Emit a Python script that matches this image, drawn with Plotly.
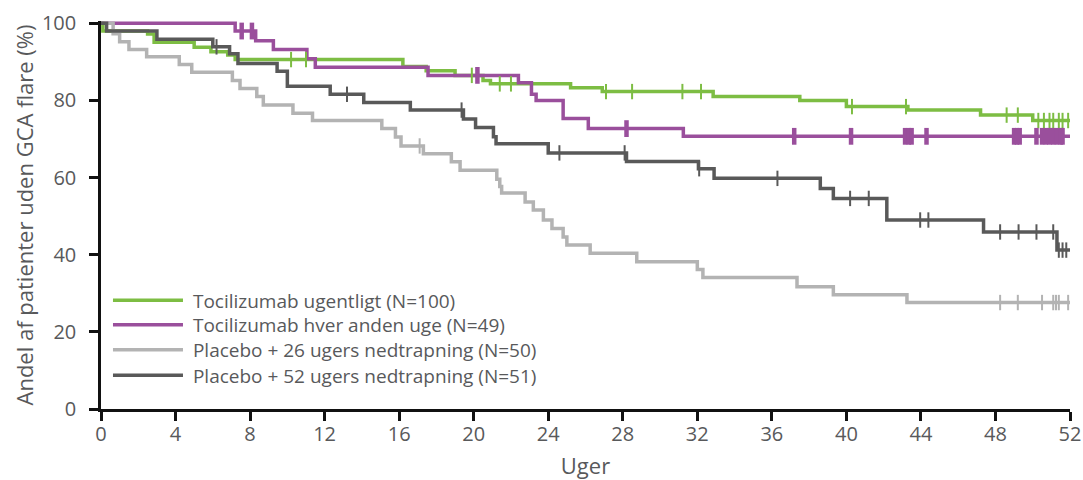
import plotly.graph_objects as go

x_ticks = list(range(0, 53, 4))
y_ticks = [0, 20, 40, 60, 80, 100]

series_names = [
    "Tocilizumab ugentligt (N=100)",
    "Tocilizumab hver anden uge (N=49)",
    "Placebo + 26 ugers nedtrapning (N=50)",
    "Placebo + 52 ugers nedtrapning (N=51)",
]
series_colors = ["#7dbd43", "#9a4f9c", "#b3b3b3", "#595959"]

# Tocilizumab weekly
tcz_w_t = [0, 0.1, 2.5, 2.85, 5.0, 5.9, 6.8, 7.2, 16.2, 17.45, 19.0, 20.5, 20.9, 25.2, 26.9,
           32.85, 37.5, 40.0, 43.3, 47.2, 50.0, 52.5]
tcz_w_s = [100, 98, 97.2, 95.1, 93.8, 92.6, 91.8, 90.6, 88.8, 87.7, 86.5, 85.2, 84.3, 83.3, 82.3,
           81.0, 80.0, 78.4, 77.5, 76.2, 74.8, 74.8]
tcz_w_c = [10.2, 11.0, 19.9, 21.4, 22.0, 27.1, 28.5, 31.2, 32.2, 40.3, 43.2, 48.6, 49.2, 50.3,
           50.6, 50.9, 51.1, 51.4, 51.6, 51.9, 52.2, 52.5]

# Tocilizumab every other week
tcz_e_t = [0, 7.2, 8.3, 9.25, 11.05, 11.5, 17.55, 22.4, 23.1, 23.35, 24.8, 26.15, 31.25, 52.4]
tcz_e_s = [100, 98.0, 95.5, 93.2, 90.8, 88.6, 86.5, 84.6, 81.6, 80.0, 75.3, 72.7, 70.7, 70.7]
tcz_e_c = [7.55, 8.1, 20.2, 28.2, 37.2, 40.25, 43.15, 43.35, 43.5, 44.3, 49.0, 49.15, 49.3, 50.2,
           50.5, 50.7, 50.9, 51.1, 51.3, 51.5, 51.6, 52.15]

# Placebo + 26 weeks taper
pbo26_t = [0, 0.65, 1.0, 1.5, 2.45, 4.2, 4.87, 7.05, 7.46, 8.36, 8.71, 10.3, 11.35, 15.07, 15.8,
           16.1, 17.3, 18.8, 19.27, 21.24, 21.4, 21.5, 22.76, 23.2, 23.74, 24.2, 24.8, 25.0,
           26.25, 28.75, 32.0, 32.3, 37.35, 39.3, 43.25, 52.3]
pbo26_s = [100, 97.3, 95.2, 93.2, 91.3, 89.3, 87.3, 85.2, 83.1, 81.0, 78.8, 76.7, 74.8, 72.7, 70.5,
           68.2, 66.2, 64.1, 61.9, 59.6, 57.7, 56.0, 53.7, 51.6, 49.0, 46.8, 44.6, 42.5,
           40.4, 38.2, 36.2, 34.1, 31.7, 29.6, 27.6, 27.6]
pbo26_c = [17.1, 48.25, 49.2, 50.5, 51.1, 51.25, 51.4, 51.9, 52.3]

# Placebo + 52 weeks taper
pbo52_t = [0, 0.3, 3.0, 6.0, 6.9, 7.35, 9.45, 10.0, 12.3, 14.1, 16.6, 19.45, 20.1, 21.06, 21.2,
           24.0, 28.2, 32.06, 32.9, 38.6, 39.3, 42.17, 47.36, 51.3, 52.1]
pbo52_s = [100, 98.0, 95.9, 93.9, 92.1, 89.6, 87.6, 83.7, 81.6, 79.5, 77.5, 75.2, 73.0, 70.6, 68.8,
           66.4, 64.2, 62.3, 59.8, 57.2, 54.6, 49.0, 45.9, 41.2, 41.2]
pbo52_c = [6.2, 13.2, 19.35, 24.6, 28.1, 32.1, 36.3, 40.2, 41.2, 43.96, 44.4, 48.25, 49.24,
           50.2, 51.1, 51.4, 51.6, 51.8, 52.1]

all_t = [tcz_w_t, tcz_e_t, pbo26_t, pbo52_t]
all_s = [tcz_w_s, tcz_e_s, pbo26_s, pbo52_s]
all_c = [tcz_w_c, tcz_e_c, pbo26_c, pbo52_c]


def step_value(ts, ss, t):
    v = ss[0]
    for ti, si in zip(ts, ss):
        if ti <= t:
            v = si
        else:
            break
    return v


fig = go.Figure()
font_family = "'Open Sans', Lato, sans-serif"
text_gray = "#58595b"
legend_ids = ["legend", "legend2", "legend3", "legend4"]
legend_rows_px = [300.5, 325, 350, 375.5]  # row centres in pixels (layout only)
plot_top, plot_bottom = 21, 409

for i in range(4):
    fig.add_trace(go.Scatter(
        x=all_t[i], y=all_s[i], mode="lines", line_shape="hv",
        line=dict(color=series_colors[i], width=3.5),
        name="\u00a0" + series_names[i], legend=legend_ids[i], showlegend=True,
    ))
for i in range(4):
    cy = [step_value(all_t[i], all_s[i], c) for c in all_c[i]]
    fig.add_trace(go.Scatter(
        x=all_c[i], y=cy, mode="markers", cliponaxis=False,
        marker=dict(symbol="line-ns", size=11 if i != 1 else 12,
                    line=dict(color=series_colors[i], width=2 if i != 1 else 4.5)),
        showlegend=False, hoverinfo="skip",
    ))

layout_legends = {}
for i, lid in enumerate(legend_ids):
    layout_legends[lid] = dict(
        x=0.0072, xanchor="left",
        y=(plot_bottom - legend_rows_px[i]) / (plot_bottom - plot_top), yanchor="middle",
        bgcolor="rgba(0,0,0,0)", font=dict(size=19, color=text_gray),
        itemwidth=70,
    )

fig.update_layout(
    width=1083, height=480,
    margin=dict(l=101, r=13, t=plot_top, b=480 - plot_bottom),
    plot_bgcolor="white", paper_bgcolor="white",
    font=dict(family=font_family, color=text_gray, size=19),
    xaxis=dict(
        range=[0, 52], tickvals=x_ticks, ticks="outside", ticklen=9, tickwidth=2.5,
        tickcolor="#111", showline=True, linecolor="#111", linewidth=2.5,
        showgrid=False, zeroline=False, ticklabelstandoff=-4, automargin=False,
        tickfont=dict(size=20, color=text_gray),
        title=dict(text="Uger", font=dict(size=22, color=text_gray), standoff=26),
    ),
    yaxis=dict(
        range=[0, 100.6], tickvals=y_ticks, ticks="outside", ticklen=9, tickwidth=2.5,
        tickcolor="#111", showline=True, linecolor="#111", linewidth=2.5,
        showgrid=False, zeroline=False, ticklabelstandoff=9, automargin=False,
        tickfont=dict(size=20, color=text_gray),
        title=dict(text="Andel af patienter uden GCA flare (%)",
                   font=dict(size=22, color=text_gray), standoff=3),
    ),
    **layout_legends,
)

fig.write_html("out.html")
